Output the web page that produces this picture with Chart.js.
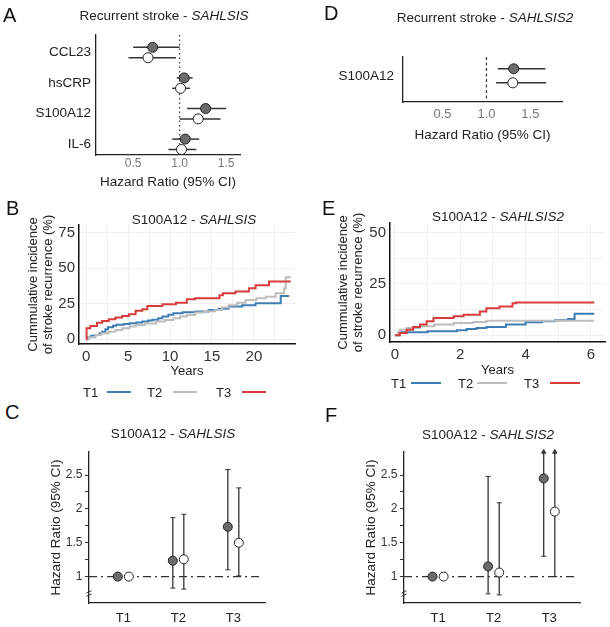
<!DOCTYPE html>
<html>
<head>
<meta charset="utf-8">
<script src="https://cdn.jsdelivr.net/npm/chart.js@4.4.1/dist/chart.umd.min.js"></script>
<style>
  body { margin: 0; background: #fff; font-family: 'Liberation Sans', Arial, sans-serif; }
  #fig { position: relative; width: 610px; height: 627px; overflow: hidden; }
  #fig canvas { position: absolute; }
  .ttl { position: absolute; transform: translate(-50%, -50%); white-space: nowrap; font-size: 13.5px; color: #222; }
  .lbl { position: absolute; transform: translateY(-50%); font-size: 20px; color: #111; }
  .lg { position: absolute; transform: translateY(-50%); font-size: 13px; color: #222; }
  .lgl { position: absolute; height: 2px; }
</style>
</head>
<body>
<div id="fig"></div>
<script>
// ---- data ----
// panel A (SAHLSIS), filled = model 1, open = model 2
const forestMarkers = ['CCL23', 'hsCRP', 'S100A12', 'IL-6'];
const aHr1 = [0.71, 1.05, 1.28, 1.06];
const aLo1 = [0.50, 0.97, 1.08, 0.92];
const aHi1 = [1.00, 1.14, 1.50, 1.21];
const aHr2 = [0.66, 1.01, 1.20, 1.02];
const aLo2 = [0.45, 0.92, 1.00, 0.88];
const aHi2 = [0.96, 1.11, 1.44, 1.18];
const forestTicks = [0.5, 1.0, 1.5];

// panel D (SAHLSIS2)
const dMarkers = ['S100A12'];
const dHr1 = [1.31], dLo1 = [1.13], dHi1 = [1.67];
const dHr2 = [1.30], dLo2 = [1.11], dHi2 = [1.68];

// tertile groups
const groups = ['T1', 'T2', 'T3'];

// panel B cumulative incidence (%), years
const bT1Time = [0, 0.2, 0.6, 1.1, 1.6, 1.9, 2.3, 2.6, 3.2, 3.6, 4.5, 5.2, 6.0, 6.7, 7.4, 7.9, 8.6, 9.1, 9.8, 10.4, 11.5, 13.0, 14.6, 15.8, 17.0, 18.6, 20.2, 23.2, 24.2];
const bT1Inc  = [0, 1.5, 2.5, 3.1, 4.2, 5.4, 7.0, 8.5, 9.5, 10.2, 10.8, 11.3, 11.8, 12.6, 13.2, 13.7, 14.8, 16.1, 17.2, 18.4, 19.0, 19.6, 20.7, 21.5, 23.0, 24.0, 25.4, 30.5, 30.5];
const bT2Time = [0, 0.3, 1.1, 1.8, 2.7, 3.5, 4.3, 5.2, 5.9, 7.0, 8.3, 9.4, 10.4, 11.2, 12.0, 13.0, 14.0, 15.4, 16.2, 17.0, 18.0, 19.0, 20.3, 21.4, 22.6, 23.6, 23.8, 24.4];
const bT2Inc  = [0, 1.5, 3.1, 4.2, 5.4, 6.5, 7.7, 9.0, 10.1, 11.2, 12.5, 13.6, 14.8, 16.0, 17.1, 18.8, 19.8, 20.7, 22.4, 24.0, 25.8, 27.7, 28.8, 30.0, 32.4, 36.0, 43.7, 43.7];
const bT3Time = [0, 0.05, 0.5, 1.3, 1.9, 2.7, 3.5, 4.3, 5.1, 5.9, 6.7, 7.3, 9.1, 10.7, 12.0, 13.0, 15.9, 16.3, 17.8, 19.4, 20.2, 21.8, 24.4];
const bT3Inc  = [0, 7.7, 9.4, 11.7, 12.9, 14.1, 15.3, 16.4, 17.6, 20.0, 21.1, 23.5, 24.6, 25.8, 28.2, 28.9, 31.0, 32.4, 33.6, 36.0, 38.0, 40.6, 40.6];

// panel E cumulative incidence (%), years
const eT1Time = [0, 0.15, 1.0, 1.9, 2.2, 2.5, 2.8, 3.4, 4.0, 4.5, 4.9, 5.3, 5.5, 6.1];
const eT1Inc  = [0, 1.5, 2.0, 2.4, 3.0, 3.5, 4.0, 5.2, 6.3, 6.8, 7.3, 7.9, 10.5, 10.5];
const eT2Time = [0, 0.1, 0.15, 0.36, 0.77, 1.2, 1.8, 2.4, 2.8, 6.1];
const eT2Inc  = [0, 1.5, 2.7, 3.5, 4.4, 5.2, 6.0, 6.5, 7.1, 7.1];
const eT3Time = [0, 0.15, 0.36, 0.56, 0.77, 0.97, 1.18, 1.8, 2.1, 2.6, 2.8, 3.2, 3.6, 3.7, 6.1];
const eT3Inc  = [0, 1.1, 2.7, 4.0, 5.2, 6.8, 8.4, 9.2, 10.0, 11.6, 13.2, 14.0, 15.6, 16.0, 16.0];

// panels C and F: hazard ratio by tertile (null = reference, Infinity = beyond axis)
const cHr1 = [1, 1.235, 1.735], cLo1 = [null, 0.83, 1.10], cHi1 = [null, 1.87, 2.58];
const cHr2 = [1, 1.255, 1.50],  cLo2 = [null, 0.815, 1.01], cHi2 = [null, 1.92, 2.31];
const fHr1 = [1, 1.15, 2.45], fLo1 = [null, 0.745, 1.30], fHi1 = [null, 2.48, Infinity];
const fHr2 = [1, 1.06, 1.96], fLo2 = [null, 0.73, 1.00],  fHi2 = [null, 2.09, Infinity];
const hrTicks = [1, 1.25, 1.5, 1.75, 2, 2.25, 2.5];

const BLUE = '#3f7db5', GREY = '#bdbdbd', RED = '#d63c3c';
const FILL = '#6b6b6b', EDGE = '#222';

Chart.defaults.font.family = "'Liberation Sans', Arial, sans-serif";
Chart.defaults.color = '#222';
Chart.defaults.animation = false;
Chart.defaults.responsive = false;
Chart.defaults.devicePixelRatio = 1;
Chart.defaults.plugins.legend.display = false;
Chart.defaults.plugins.tooltip.enabled = false;

const fig = document.getElementById('fig');

function makeChart(box, area, config) {
  const cv = document.createElement('canvas');
  cv.width = box.w; cv.height = box.h;
  cv.style.left = box.x + 'px'; cv.style.top = box.y + 'px';
  cv.style.width = box.w + 'px'; cv.style.height = box.h + 'px';
  fig.appendChild(cv);
  const o = config.options;
  o.layout = { autoPadding: false, padding: { top: area.t - box.y, right: box.x + box.w - area.r, left: 0, bottom: 0 } };
  const yw = area.l - box.x, xh = box.y + box.h - area.b;
  o.scales.x.afterFit = s => { s.height = xh; };
  o.scales.y.afterFit = s => { s.width = yw; };
  return new Chart(cv, config);
}

function addText(cls, x, y, html) {
  const d = document.createElement('div');
  d.className = cls;
  d.style.left = x + 'px'; d.style.top = y + 'px';
  d.innerHTML = html;
  fig.appendChild(d);
}

function seg(x0, y0, x1, y1, extra) {
  return Object.assign({
    type: 'line', data: [{ x: x0, y: y0 }, { x: x1, y: y1 }],
    borderColor: '#333', borderWidth: 1.5, pointRadius: 0, fill: false, order: 2, clip: false
  }, extra || {});
}

function pts(data, filled, r) {
  return {
    type: 'scatter', data, pointRadius: r, pointBorderWidth: 1,
    pointBackgroundColor: filled ? FILL : '#fff', pointBorderColor: EDGE, order: 0, clip: false
  };
}

function km(times, inc, color, order) {
  return {
    type: 'line', data: times.map((t, i) => ({ x: t, y: inc[i] })), stepped: true,
    borderColor: color, borderWidth: 2, pointRadius: 0, fill: false, order
  };
}

// ---- forest plots (A, D) ----
function forest(box, area, names, h1, l1, u1, h2, l2, u2, yMin, yMax, off, xMin, xMax, refDash, tickSize) {
  const ds = [];
  names.forEach((n, i) => {
    ds.push(seg(l1[i], i - off, u1[i], i - off));
    ds.push(seg(l2[i], i + off, u2[i], i + off));
  });
  ds.push(seg(1, yMin, 1, yMax, { borderDash: refDash, borderWidth: 1.3, borderColor: '#444', order: 3 }));
  ds.push(pts(names.map((n, i) => ({ x: h1[i], y: i - off })), true, 5));
  ds.push(pts(names.map((n, i) => ({ x: h2[i], y: i + off })), false, 5));
  return makeChart(box, area, {
    type: 'scatter',
    data: { datasets: ds },
    options: {
      scales: {
        x: {
          type: 'linear', min: xMin, max: xMax,
          afterBuildTicks: s => { s.ticks = forestTicks.map(v => ({ value: v })); },
          ticks: { callback: v => v.toFixed(1), color: '#777', font: { size: tickSize }, padding: tickSize === 12 ? 1 : 4.2 },
          grid: { display: false, drawTicks: false },
          border: { display: true, color: '#222', width: 1.3 },
          title: { display: true, text: 'Hazard Ratio (95% CI)', color: '#222', font: { size: 13.5 }, padding: { top: 0, bottom: tickSize === 12 ? 4.9 : 1.9 } }
        },
        y: {
          type: 'linear', min: yMin, max: yMax, reverse: true,
          afterBuildTicks: s => { s.ticks = names.map((n, i) => ({ value: i })); },
          ticks: { callback: v => names[v], color: '#222', font: { size: 13.5 }, padding: tickSize === 12 ? 5 : 9 },
          grid: { display: false, drawTicks: false },
          border: { display: true, color: '#222', width: 1.3 }
        }
      }
    }
  });
}

forest({ x: 0, y: 22, w: 250, h: 173 }, { l: 96, t: 27, r: 240, b: 155 },
  forestMarkers, aHr1, aLo1, aHi1, aHr2, aLo2, aHi2, -0.57, 3.35, 0.17, 0.10, 1.65, [1.5, 3], 12);
forest({ x: 305, y: 40, w: 270, h: 105 }, { l: 403, t: 56, r: 562, b: 102 },
  dMarkers, dHr1, dLo1, dHi1, dHr2, dLo2, dHi2, -0.417, 0.583, 0.156, 0.05, 1.86, [3, 2.5], 13);

// ---- cumulative incidence (B, E) ----
function incidence(box, area, sets, xMin, xMax, xStep, xLabelEvery, yMax, xPad, titlePad, yTitlePad) {
  const xt = [];
  for (let v = 0; v <= xMax; v += xStep) xt.push(v);
  const yt = [];
  for (let v = 0; v <= yMax; v += 12.5) yt.push(v);
  return makeChart(box, area, {
    type: 'line',
    data: { datasets: sets },
    options: {
      scales: {
        x: {
          type: 'linear', min: xMin, max: xMax,
          afterBuildTicks: s => { s.ticks = xt.map(v => ({ value: v })); },
          ticks: { callback: v => (Math.abs(v / xLabelEvery - Math.round(v / xLabelEvery)) < 1e-6 ? String(v) : ''), color: '#333', font: { size: 15 }, padding: xPad },
          grid: { color: '#ececec', lineWidth: 0.8, drawTicks: false },
          border: { display: true, color: '#111', width: 1.5 },
          title: { display: true, text: 'Years', color: '#222', font: { size: 13 }, padding: { top: 0, bottom: titlePad } }
        },
        y: {
          type: 'linear', min: -3.3, max: yMax,
          afterBuildTicks: s => { s.ticks = yt.map(v => ({ value: v })); },
          ticks: { callback: v => (v % 25 === 0 ? String(v) : ''), color: '#333', font: { size: 15 }, padding: 4 },
          grid: { color: '#ececec', lineWidth: 0.8, drawTicks: false },
          border: { display: true, color: '#111', width: 1.5 },
          title: { display: true, text: ['Cummulative incidence', 'of stroke recurrence (%)'], color: '#222', font: { size: 13, lineHeight: 1.15 }, padding: { top: yTitlePad, bottom: 0 } }
        }
      }
    }
  });
}

incidence({ x: 0, y: 200, w: 300, h: 182 }, { l: 79, t: 225, r: 295, b: 344 }, [
  km(bT1Time, bT1Inc, BLUE, 2), km(bT2Time, bT2Inc, GREY, 1), km(bT3Time, bT3Inc, RED, 0)
], -0.85, 24.9, 2.5, 5, 80.4, 3.8, 2.5, 25.5);

incidence({ x: 305, y: 200, w: 305, h: 180 }, { l: 390, t: 223, r: 605, b: 342 }, [
  km(eT1Time, eT1Inc, BLUE, 2), km(eT2Time, eT2Inc, GREY, 1), km(eT3Time, eT3Inc, RED, 0)
], -0.15, 6.43, 1, 2, 54.7, 4.1, 2.2, 30.5);

// ---- hazard ratio by tertile (C, F) ----
const breakMark = {
  id: 'breakMark',
  afterDraw(chart, args, opts) {
    const ctx = chart.ctx;
    const px = chart.scales.x.left, py = chart.scales.y.getPixelForValue(opts.at);
    ctx.save();
    ctx.strokeStyle = '#333';
    ctx.lineWidth = 1;
    [-1.6, 1.6].forEach(d => {
      ctx.beginPath();
      ctx.moveTo(px - 2.5, py + d + 1.2);
      ctx.lineTo(px + 2.5, py + d - 1.2);
      ctx.stroke();
    });
    ctx.restore();
  }
};

function tertileHR(box, area, h1, l1, u1, h2, l2, u2, xMin, xMax, refEnd, yTitlePad) {
  const yMin = 0.61, yMax = 2.84, off = 0.1;
  const ds = [];
  const ci = (x, lo, hi) => {
    if (lo === null) return;
    const top = isFinite(hi) ? hi : yMax;
    ds.push(seg(x, lo, x, top, {
      borderWidth: 1.3, pointRadius: [2.5, 2.5], pointBorderWidth: 1,
      pointStyle: ['line', isFinite(hi) ? 'line' : 'triangle'],
      pointBorderColor: '#333', pointBackgroundColor: '#333'
    }));
  };
  groups.forEach((g, i) => {
    ci(i + 1 - off, l1[i], u1[i]);
    ci(i + 1 + off, l2[i], u2[i]);
  });
  ds.push(seg(xMin, 1, refEnd, 1, { borderDash: [8, 4, 2, 4], borderWidth: 1.1, borderColor: '#333', order: 3 }));
  ds.push(pts(groups.map((g, i) => ({ x: i + 1 - off, y: h1[i] })), true, 4.5));
  ds.push(pts(groups.map((g, i) => ({ x: i + 1 + off, y: h2[i] })), false, 4.5));
  return makeChart(box, area, {
    type: 'scatter',
    data: { datasets: ds },
    plugins: [breakMark],
    options: {
      plugins: { breakMark: { at: 0.75 } },
      scales: {
        x: {
          type: 'linear', min: xMin, max: xMax,
          afterBuildTicks: s => { s.ticks = groups.map((g, i) => ({ value: i + 1 })); },
          ticks: { callback: v => groups[v - 1], color: '#222', font: { size: 13 }, padding: 7.2 },
          grid: { display: false, drawTicks: false },
          border: { display: true, color: '#222', width: 1.3 }
        },
        y: {
          type: 'linear', min: yMin, max: yMax,
          afterBuildTicks: s => { s.ticks = hrTicks.map(v => ({ value: v })); },
          ticks: { callback: v => (Number.isInteger(v * 2) ? String(v) : ''), color: '#333', font: { size: 12 }, padding: 2.5 },
          grid: { display: true, drawOnChartArea: false, drawTicks: true, tickLength: 4, color: '#333', lineWidth: 1 },
          border: { display: true, color: '#222', width: 1.3 },
          title: { display: true, text: 'Hazard Ratio (95% CI)', color: '#222', font: { size: 13.5 }, padding: { top: yTitlePad, bottom: 0 } }
        }
      }
    }
  });
}

tertileHR({ x: 0, y: 440, w: 280, h: 187 }, { l: 89, t: 452, r: 265, b: 603 },
  cHr1, cLo1, cHi1, cHr2, cLo2, cHi2, 0.376, 3.576, 3.52, 48.6);
tertileHR({ x: 305, y: 440, w: 290, h: 187 }, { l: 404, t: 452, r: 580, b: 603 },
  fHr1, fLo1, fHi1, fHr2, fLo2, fHi2, 0.387, 3.553, 3.49, 58.6);

// ---- titles, panel letters, legends ----
addText('ttl', 164, 15, 'Recurrent stroke - <i>SAHLSIS</i>');
addText('ttl', 485, 17, 'Recurrent stroke - <i>SAHLSIS2</i>');
addText('ttl', 194, 219, 'S100A12 - <i>SAHLSIS</i>');
addText('ttl', 498, 216, 'S100A12 - <i>SAHLSIS2</i>');
addText('ttl', 173, 433, 'S100A12 - <i>SAHLSIS</i>');
addText('ttl', 488, 434, 'S100A12 - <i>SAHLSIS2</i>');

addText('lbl', 3, 15, 'A');
addText('lbl', 6, 208, 'B');
addText('lbl', 5, 412, 'C');
addText('lbl', 324, 13, 'D');
addText('lbl', 322, 208, 'E');
addText('lbl', 325, 415, 'F');

function legend(y, textX, lineX, lineW) {
  const cols = [BLUE, GREY, RED];
  groups.forEach((g, i) => {
    addText('lg', textX[i], y, g);
    const l = document.createElement('div');
    l.className = 'lgl';
    l.style.left = lineX[i] + 'px'; l.style.top = (y - 1) + 'px';
    l.style.width = lineW + 'px'; l.style.background = cols[i];
    fig.appendChild(l);
  });
}
legend(392, [83, 147, 216], [107, 173, 242], 24);
legend(383, [391, 458, 524], [411, 477, 550], 30);
</script>
</body>
</html>
